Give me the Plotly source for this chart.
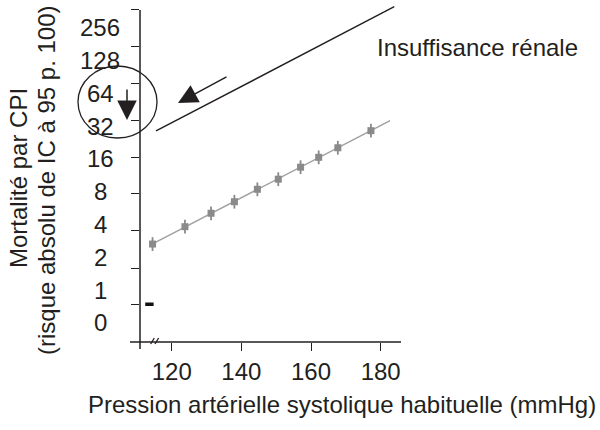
import numpy as np
import plotly.graph_objects as go

# ---- data ----
sbp = [114.5, 123.8, 131.3, 138.0, 144.6, 150.6, 157.0, 162.2, 167.7, 177.2]
mort = [2.64, 3.81, 5.06, 6.46, 8.40, 10.4, 13.4, 16.5, 20.2, 29.0]
ci_log2 = [0.21, 0.21, 0.21, 0.21, 0.21, 0.21, 0.21, 0.21, 0.21, 0.21]
trend_end_x = 182.7

renal_x = [115.5, 183.9]
renal_y = [28.8, 398.0]

ref_x = [113.6]
ref_y = [0.74]

y_labels = ["0", "1", "2", "4", "8", "16", "32", "64", "128", "256"]
y_label_pos = [-1, 0, 1, 2, 3, 4, 5, 6, 7, 8]
y_tick_pos = [-0.43, 0.67, 1.80, 2.93, 4.05, 5.18, 6.31, 7.41, 8.54]
x_ticks = [120, 140, 160, 180]

TXT = "#231f20"
FONT = "Liberation Sans, Arial, Helvetica, sans-serif"
FS = 24

# pixel helpers for decorations (plot area: x 140..405, y 0..342)
L, R, T, B = 140, 405, 0, 342
W, H = R - L, B - T
def px(x):
    return (x - L) / W
def py(y):
    return (B - y) / H

ly = np.log2(mort)
coef = np.polyfit(sbp, ly, 1)
tx = np.array([sbp[0], trend_end_x])
ty = np.polyval(coef, tx)

fig = go.Figure()
fig.add_trace(go.Scatter(x=tx, y=ty, mode="lines",
                         line=dict(color="#a0a0a0", width=1.5),
                         hoverinfo="skip", showlegend=False))
fig.add_trace(go.Scatter(x=sbp, y=ly, mode="markers",
                         marker=dict(symbol="square", size=7, color="#8a8a8a"),
                         error_y=dict(type="data", array=ci_log2, color="#8a8a8a",
                                      thickness=1.8, width=0),
                         showlegend=False))
fig.add_trace(go.Scatter(x=renal_x, y=np.log2(renal_y), mode="lines",
                         line=dict(color=TXT, width=1.4),
                         showlegend=False))
fig.add_trace(go.Scatter(x=ref_x, y=np.log2(ref_y), mode="markers",
                         marker=dict(symbol="line-ew", size=6,
                                     line=dict(color="#111", width=3.5)),
                         showlegend=False))

x_lo = 120 + (L - 171.7) / 3.483
x_hi = 120 + (R - 171.7) / 3.483
y_lo = (290 - B) / 32.8
y_hi = (290 - T) / 32.8

fig.update_xaxes(range=[x_lo, x_hi], tickvals=x_ticks, ticks="outside", ticklen=8,
                 tickwidth=1.4, tickcolor=TXT, showline=False, showgrid=False,
                 zeroline=False, tickfont=dict(family=FONT, size=FS, color=TXT))
fig.update_yaxes(range=[y_lo, y_hi], tickvals=y_tick_pos, ticks="outside", ticklen=8,
                 tickwidth=1.4, tickcolor=TXT, showticklabels=False, showline=False,
                 showgrid=False, zeroline=False)

shapes = [
    # y axis line
    dict(type="line", xref="paper", yref="paper", x0=px(140), x1=px(140),
         y0=py(10), y1=py(349), line=dict(color=TXT, width=1.5)),
    # x axis line
    dict(type="line", xref="paper", yref="paper", x0=px(130), x1=px(401),
         y0=py(342), y1=py(342), line=dict(color=TXT, width=1.5)),
    # axis break marks
    dict(type="line", xref="paper", yref="paper", x0=px(150.7), x1=px(154.3),
         y0=py(344), y1=py(338), line=dict(color=TXT, width=1.3)),
    dict(type="line", xref="paper", yref="paper", x0=px(155), x1=px(158.6),
         y0=py(344), y1=py(338), line=dict(color=TXT, width=1.3)),
    # ellipse
    dict(type="circle", xref="paper", yref="paper", x0=px(78), x1=px(157),
         y0=py(138), y1=py(66), line=dict(color=TXT, width=1.3)),
]

ann = []
for lab, pos in zip(y_labels, y_label_pos):
    ann.append(dict(x=px(100), y=pos, xref="paper", yref="y", text=lab,
                    showarrow=False, xanchor="center", yanchor="middle",
                    font=dict(family=FONT, size=FS, color=TXT)))
ann += [
    dict(x=px(342), y=py(405), xref="paper", yref="paper",
         text="Pression artérielle systolique habituelle (mmHg)", showarrow=False,
         xanchor="center", yanchor="middle", font=dict(family=FONT, size=FS, color=TXT)),
    dict(x=px(375), y=py(47), xref="paper", yref="paper", text="Insuffisance rénale",
         showarrow=False, xanchor="left", yanchor="middle",
         font=dict(family=FONT, size=FS, color=TXT)),
    dict(x=px(18), y=py(178), xref="paper", yref="paper", text="Mortalité par CPI",
         showarrow=False, textangle=-90, xanchor="center", yanchor="middle",
         font=dict(family=FONT, size=FS, color=TXT)),
    dict(x=px(46), y=py(180), xref="paper", yref="paper",
         text="(risque absolu de IC à 95 p. 100)",
         showarrow=False, textangle=-90, xanchor="center", yanchor="middle",
         font=dict(family=FONT, size=FS, color=TXT)),
    # down arrow in the ellipse
    dict(x=px(127), y=py(120), xref="paper", yref="paper", text="", showarrow=True,
         ax=0, ay=-32, arrowhead=2, arrowsize=2.6, arrowwidth=1.5, arrowcolor=TXT),
    # diagonal arrow
    dict(x=px(178), y=py(103), xref="paper", yref="paper", text="", showarrow=True,
         ax=50, ay=-27, arrowhead=2, arrowsize=2.6, arrowwidth=1.5, arrowcolor=TXT),
]

fig.update_layout(width=600, height=430, margin=dict(l=L, r=600 - R, t=T, b=430 - B),
                  paper_bgcolor="white", plot_bgcolor="white",
                  shapes=shapes, annotations=ann, showlegend=False)

fig.write_html("out.html")
